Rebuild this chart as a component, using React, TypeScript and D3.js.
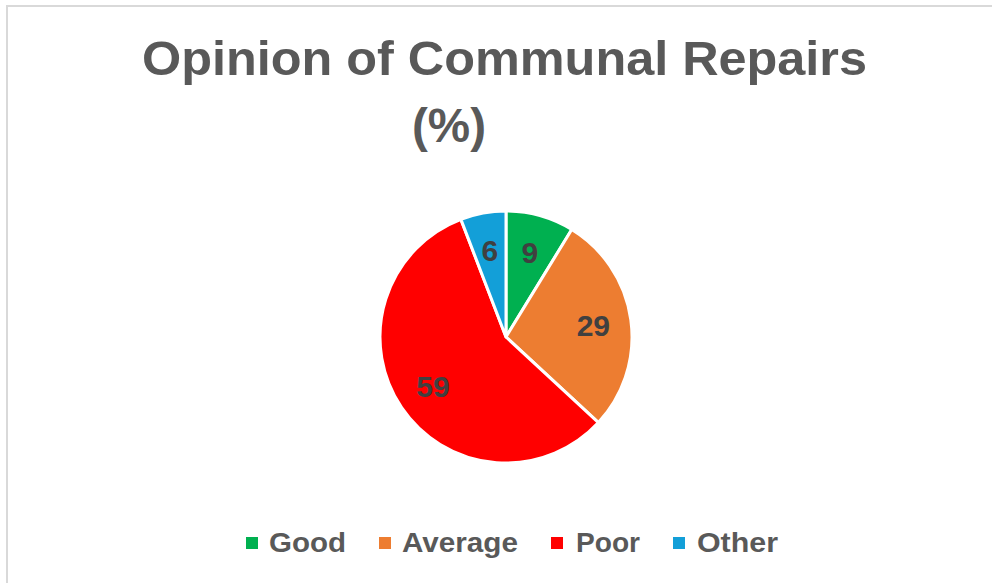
import React from "react";
import * as d3 from "d3";

const categories = ["Good", "Average", "Poor", "Other"];
const values = [9, 29, 59, 6];
const colors = ["#00b050", "#ed7d31", "#ff0000", "#139fd8"];

const W = 992;
const H = 583;

export default function App() {
  const cx = 506;
  const cy = 337;
  const r = 126;
  const pie = d3.pie<number>().sort(null).value((d) => d);
  const arcs = pie(values);
  const arc = d3.arc<d3.PieArcDatum<number>>().innerRadius(0).outerRadius(r);
  const labelArc = d3.arc<d3.PieArcDatum<number>>().innerRadius(r * 0.7 * 2 - r).outerRadius(r);
  const font = "'Liberation Sans', Arial, sans-serif";

  // legend layout
  const legendSq = [246, 379, 551, 673];
  const legendTx = [269, 402, 576, 697];
  const legendTextW = [77, 116, 64, 81];

  return (
    <svg
      width={W}
      height={H}
      style={{ position: "absolute", left: 0, top: 0 }}
      viewBox={`0 0 ${W} ${H}`}
    >
      <rect x={0} y={0} width={W} height={H} fill="#ffffff" />
      <line x1={7} y1={5} x2={7} y2={H} stroke="#d9d9d9" strokeWidth={2} />
      <line x1={6} y1={6} x2={W} y2={6} stroke="#d9d9d9" strokeWidth={2} />
      <text
        x={504.5}
        y={75}
        textAnchor="middle"
        fontFamily={font}
        fontWeight="bold"
        fontSize={48}
        fill="#595959"
        textLength={725}
        lengthAdjust="spacingAndGlyphs"
      >
        Opinion of Communal Repairs
      </text>
      <text
        x={449}
        y={142}
        textAnchor="middle"
        fontFamily={font}
        fontWeight="bold"
        fontSize={48}
        fill="#595959"
        textLength={74}
        lengthAdjust="spacingAndGlyphs"
      >
        (%)
      </text>
      <g transform={`translate(${cx},${cy})`}>
        {arcs.map((a, i) => (
          <path key={categories[i]} d={arc(a) || ""} fill={colors[i]} stroke="#ffffff" strokeWidth={3} strokeLinejoin="round" />
        ))}
        {arcs.map((a, i) => {
          const [lx, ly] = labelArc.centroid(a);
          return (
            <text
              key={"l" + categories[i]}
              x={lx}
              y={ly}
              dy="0.36em"
              textAnchor="middle"
              fontFamily={font}
              fontWeight="bold"
              fontSize={30}
              fill="#404040"
            >
              {values[i]}
            </text>
          );
        })}
      </g>
      {categories.map((c, i) => (
        <g key={"lg" + c}>
          <rect x={legendSq[i]} y={537} width={12} height={12} fill={colors[i]} />
          <text
            x={legendTx[i]}
            y={552}
            fontFamily={font}
            fontWeight="bold"
            fontSize={28}
            fill="#595959"
            textLength={legendTextW[i]}
            lengthAdjust="spacingAndGlyphs"
          >
            {c}
          </text>
        </g>
      ))}
    </svg>
  );
}
